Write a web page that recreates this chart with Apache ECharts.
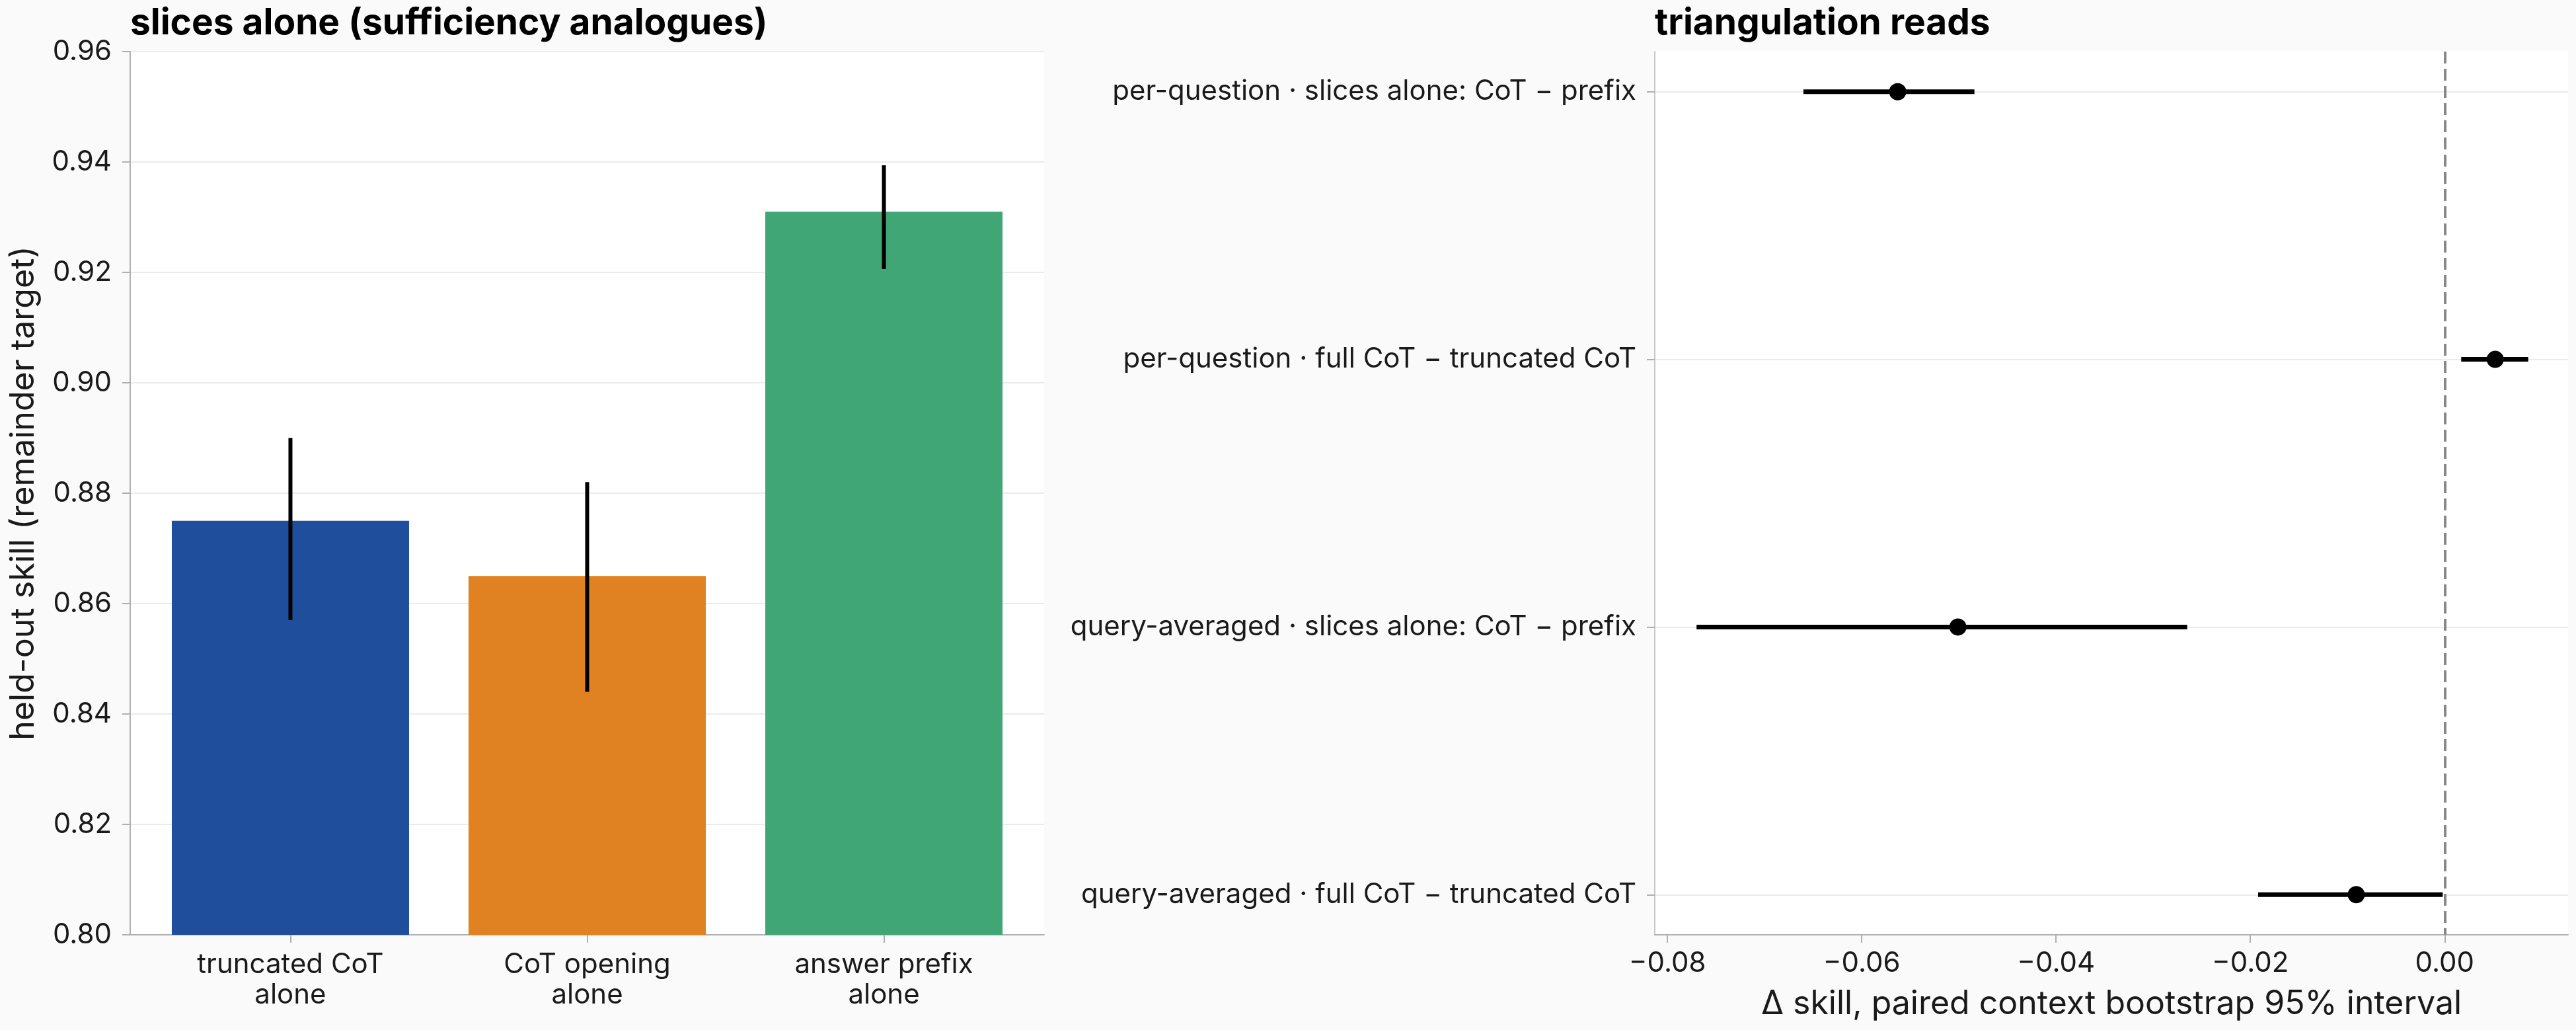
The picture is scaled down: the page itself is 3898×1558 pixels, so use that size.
<!DOCTYPE html>
<html>
<head>
<meta charset="utf-8">
<script src="https://cdn.jsdelivr.net/npm/echarts@6/dist/echarts.min.js"></script>
<style>
  html, body { margin: 0; padding: 0; background: #fafafa; }
  #main { width: 3898px; height: 1558px; }
</style>
</head>
<body>
<div id="main"></div>
<script>
// left panel: slices alone
const barCategories = ['truncated CoT\nalone', 'CoT opening\nalone', 'answer prefix\nalone'];
const barValues = [0.875, 0.865, 0.931];
const barLow = [0.857, 0.844, 0.9206];
const barHigh = [0.890, 0.882, 0.9394];
const barColors = ['#1f4e9c', '#e08222', '#40a676'];
const barPositions = [0, 1, 2];

// right panel: triangulation reads
const diffLabels = [
  'per-question · slices alone: CoT − prefix',
  'per-question · full CoT − truncated CoT',
  'query-averaged · slices alone: CoT − prefix',
  'query-averaged · full CoT − truncated CoT'
];
const diffRows = [0, 1, 2, 3];
const diffPoints = [-0.0563, 0.0052, -0.0501, -0.0091];
const diffLow = [-0.0660, 0.0017, -0.0770, -0.0192];
const diffHigh = [-0.0484, 0.0086, -0.0265, -0.0002];
const diffTicks = [-0.08, -0.06, -0.04, -0.02, 0.00];

const FONT = 'Inter';
const axisGray = '#b0b0b0';
const gridGray = '#ebebeb';
const textColor = '#1a1a1a';
const TICK_SIZE = 42;
const NAME_SIZE = 50;

const myChart = echarts.init(document.getElementById('main'));

const option = {
  animation: false,
  backgroundColor: '#fafafa',
  textStyle: { fontFamily: FONT },
  title: [
    {
      text: 'slices alone (sufficiency analogues)',
      left: 197, top: 8, padding: 0,
      textStyle: { fontFamily: FONT, fontSize: 55, fontWeight: 'bold', color: '#000' }
    },
    {
      text: 'triangulation reads',
      left: 2504, top: 8, padding: 0,
      textStyle: { fontFamily: FONT, fontSize: 55, fontWeight: 'bold', color: '#000' }
    }
  ],
  grid: [
    { left: 197, top: 78, width: 1383, height: 1336, show: true, backgroundColor: '#fff', borderWidth: 0 },
    { left: 2504, top: 78, width: 1382, height: 1336, show: true, backgroundColor: '#fff', borderWidth: 0 }
  ],
  xAxis: [
    {
      type: 'value', gridIndex: 0, min: -0.54, max: 2.54,
      axisLine: { show: true, onZero: false, lineStyle: { color: axisGray, width: 2 } },
      axisTick: { show: true, customValues: barPositions, length: 12, lineStyle: { color: axisGray, width: 2 } },
      axisLabel: {
        customValues: barPositions, margin: 22,
        formatter: v => barCategories[v],
        fontSize: TICK_SIZE, lineHeight: 46, color: textColor
      },
      splitLine: { show: false }
    },
    {
      type: 'value', gridIndex: 1, min: -0.0813, max: 0.0127,
      name: 'Δ skill, paired context bootstrap 95% interval',
      nameLocation: 'middle', nameGap: 80,
      nameTextStyle: { fontSize: NAME_SIZE, color: textColor },
      axisLine: { show: true, onZero: false, lineStyle: { color: axisGray, width: 2 } },
      axisTick: { show: true, customValues: diffTicks, length: 12, lineStyle: { color: axisGray, width: 2 } },
      axisLabel: {
        customValues: diffTicks, margin: 22,
        formatter: v => (v < -1e-9 ? '−' : '') + Math.abs(v).toFixed(2),
        fontSize: TICK_SIZE, color: textColor
      },
      splitLine: { show: false }
    }
  ],
  yAxis: [
    {
      type: 'value', gridIndex: 0, min: 0.80, max: 0.96, interval: 0.02,
      name: 'held-out skill (remainder target)',
      nameLocation: 'middle', nameGap: 136,
      nameTextStyle: { fontSize: NAME_SIZE, color: textColor },
      axisLine: { show: true, onZero: false, lineStyle: { color: axisGray, width: 2 } },
      axisTick: { show: true, length: 12, lineStyle: { color: axisGray, width: 2 } },
      axisLabel: { formatter: v => v.toFixed(2), fontSize: TICK_SIZE, margin: 28, color: textColor },
      splitLine: { show: true, lineStyle: { color: gridGray, width: 2 } }
    },
    {
      type: 'value', gridIndex: 1, min: -0.15, max: 3.15, inverse: true,
      axisLine: { show: true, onZero: false, lineStyle: { color: '#c8c8c8', width: 2 } },
      axisTick: { show: true, customValues: diffRows, length: 12, lineStyle: { color: axisGray, width: 2 } },
      axisLabel: { customValues: diffRows, formatter: v => diffLabels[v], fontSize: TICK_SIZE, margin: 28, color: textColor },
      splitLine: { show: true, lineStyle: { color: gridGray, width: 2 } }
    }
  ],
  series: [
    {
      type: 'bar', xAxisIndex: 0, yAxisIndex: 0, barWidth: 359,
      data: barValues.map((v, i) => ({ value: [barPositions[i], v], itemStyle: { color: barColors[i] } }))
    },
    {
      type: 'custom', xAxisIndex: 0, yAxisIndex: 0, z: 5,
      encode: { x: 0, y: [1, 2] },
      data: barLow.map((lo, i) => [barPositions[i], lo, barHigh[i]]),
      renderItem: (params, api) => {
        const a = api.coord([api.value(0), api.value(1)]);
        const b = api.coord([api.value(0), api.value(2)]);
        return { type: 'line', shape: { x1: a[0], y1: a[1], x2: b[0], y2: b[1] }, style: { stroke: '#000', lineWidth: 6 } };
      }
    },
    {
      type: 'custom', xAxisIndex: 1, yAxisIndex: 1, z: 5,
      encode: { x: [0, 1], y: 2 },
      data: diffLow.map((lo, i) => [lo, diffHigh[i], diffRows[i]]),
      renderItem: (params, api) => {
        const a = api.coord([api.value(0), api.value(2)]);
        const b = api.coord([api.value(1), api.value(2)]);
        return { type: 'line', shape: { x1: a[0], y1: a[1], x2: b[0], y2: b[1] }, style: { stroke: '#000', lineWidth: 7 } };
      }
    },
    {
      type: 'scatter', xAxisIndex: 1, yAxisIndex: 1, z: 6,
      symbol: 'circle', symbolSize: 26,
      itemStyle: { color: '#000', opacity: 1 },
      data: diffPoints.map((v, i) => [v, diffRows[i]]),
      markLine: {
        silent: true, symbol: 'none', z: 4,
        label: { show: false },
        lineStyle: { color: '#888', type: [18, 8], width: 4, opacity: 1 },
        data: [{ xAxis: 0 }]
      }
    }
  ]
};

myChart.setOption(option);
window.onresize = function () { myChart.resize(); };
</script>
</body>
</html>
